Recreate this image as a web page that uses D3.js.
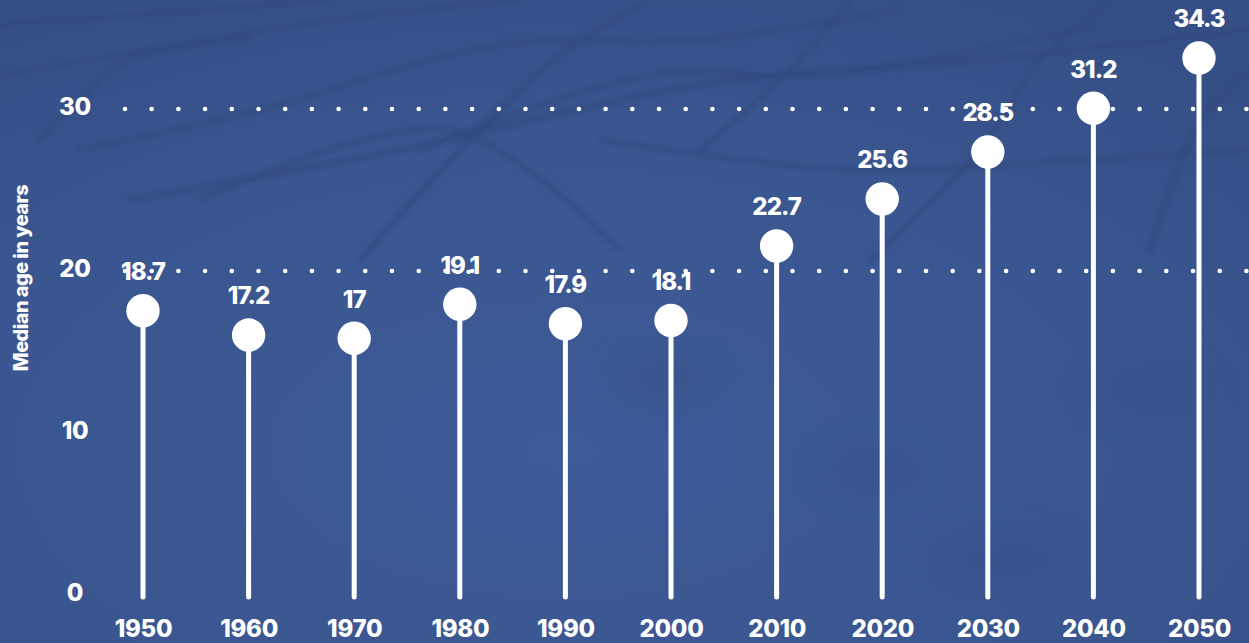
<!DOCTYPE html>
<html>
<head>
<meta charset="utf-8">
<script src="https://cdn.jsdelivr.net/npm/d3@7"></script>
<style>
  html, body { margin: 0; padding: 0; background: #3b5791; overflow: hidden; }
  svg { display: block; font-family: Inter, "Open Sans", sans-serif; }
</style>
</head>
<body>
<svg id="chart" width="1249" height="643"></svg>
<script>
// ---- data ----
const years = ["1950", "1960", "1970", "1980", "1990", "2000", "2010", "2020", "2030", "2040", "2050"];
const medianAge = [18.7, 17.2, 17, 19.1, 17.9, 18.1, 22.7, 25.6, 28.5, 31.2, 34.3];
const yTicks = [0, 10, 20, 30];
const gridTicks = [20, 30];
const yTitle = "Median age in years";

const W = 1249, H = 643;
const svg = d3.select("#chart");

// ---- background ----
const defs = svg.append("defs");
const rg = defs.append("radialGradient").attr("id", "bg").attr("cx", "45%").attr("cy", "70%").attr("r", "80%");
rg.append("stop").attr("offset", "0%").attr("stop-color", "#3d5b97");
rg.append("stop").attr("offset", "60%").attr("stop-color", "#3a5690");
rg.append("stop").attr("offset", "100%").attr("stop-color", "#354f86");
defs.append("filter").attr("id", "blur").append("feGaussianBlur").attr("stdDeviation", 2.5);
defs.append("filter").attr("id", "blur2").append("feGaussianBlur").attr("stdDeviation", 18);
svg.append("rect").attr("width", W).attr("height", H).attr("fill", "url(#bg)");

// decorative texture (background only)
const deco = svg.append("g").attr("filter", "url(#blur)").attr("stroke", "#314a7c").attr("fill", "none").attr("stroke-linecap", "round");
const decoLines = [
  [[0, 25], [180, 12], [330, 0]], [[0, 75], [120, 55], [330, 20], [520, 0]],
  [[80, 150], [260, 110], [500, 45], [700, 40], [900, 10]],
  [[130, 200], [400, 150], [700, 85], [980, 60], [1249, 30]],
  [[420, 150], [650, 75], [820, 75], [1100, 25]],
  [[250, 40], [130, 60], [40, 140]], [[650, 0], [560, 55], [460, 150], [360, 260]],
  [[850, 0], [800, 60], [700, 150]], [[1110, 0], [1040, 60], [980, 150], [870, 260]],
  [[1249, 70], [1200, 120], [1150, 250]], [[200, 200], [450, 130], [620, 250]],
  [[600, 140], [850, 170], [1080, 160], [1249, 150]]
];
deco.selectAll("path").data(decoLines).join("path")
  .attr("d", d3.line().curve(d3.curveCatmullRom))
  .attr("stroke-width", (d, i) => i % 3 === 0 ? 7 : 6)
  .attr("opacity", 0.6);
const blobs = svg.append("g").attr("filter", "url(#blur2)").attr("fill", "#33497c").attr("opacity", 0.3);
[[660, 380, 50, 20], [1150, 390, 60, 20], [1000, 560, 70, 20], [870, 470, 50, 18]].forEach(b => {
  blobs.append("ellipse").attr("cx", b[0]).attr("cy", b[1]).attr("rx", b[2]).attr("ry", b[3]);
});

// ---- scales ----
const x = d3.scalePoint().domain(years).range([143, 1199]);
const y = d3.scaleLinear().domain([0, 35]).range([597, 597 - 35 * 16.2]);
const r = 16.7;

// ---- grid (dotted) ----
svg.append("g").selectAll("line").data(gridTicks).join("line")
  .attr("x1", 125).attr("x2", W + 10)
  .attr("y1", d => y(d) - 2).attr("y2", d => y(d) - 2)
  .attr("stroke", "#fff").attr("stroke-width", 4.6)
  .attr("stroke-linecap", "round").attr("stroke-dasharray", "0 26.7");

// ---- y axis labels ----
const yAxis = d3.axisLeft(y).tickValues(yTicks).tickSize(0).tickPadding(0);
const ya = svg.append("g").attr("transform", "translate(75,0)").call(yAxis);
ya.select(".domain").remove();
ya.selectAll("text").attr("fill", "#fff").attr("font-size", 24).attr("font-weight", 800)
  .attr("text-anchor", "middle").attr("dy", "0.32em").attr("y", -4).attr("font-family", "Inter, sans-serif")
  .attr("letter-spacing", -0.3);

// y title
svg.append("text").attr("transform", "translate(28,278) rotate(-90)")
  .attr("text-anchor", "middle").attr("fill", "#fff").attr("font-size", 20).attr("font-weight", 800)
  .attr("letter-spacing", -0.6).text(yTitle);

// ---- x axis labels ----
const xAxis = d3.axisBottom(x).tickSize(0).tickPadding(0);
const xa = svg.append("g").attr("transform", "translate(0,637)").call(xAxis);
xa.select(".domain").remove();
xa.selectAll("text").attr("fill", "#fff").attr("font-size", 24).attr("font-weight", 800)
  .attr("dy", 0).attr("y", 0).attr("font-family", "Inter, sans-serif").attr("letter-spacing", -0.3);

// ---- lollipops ----
const data = years.map((yr, i) => ({ year: yr, v: medianAge[i] }));
const g = svg.append("g");
g.selectAll("line.stem").data(data).join("line").attr("class", "stem")
  .attr("x1", d => x(d.year)).attr("x2", d => x(d.year))
  .attr("y1", y(0)).attr("y2", d => y(d.v) + r)
  .attr("stroke", "#fff").attr("stroke-width", 5).attr("stroke-linecap", "round");
g.selectAll("circle").data(data).join("circle")
  .attr("cx", d => x(d.year)).attr("cy", d => y(d.v) + r).attr("r", r).attr("fill", "#fff");
g.selectAll("text.val").data(data).join("text").attr("class", "val")
  .attr("x", d => x(d.year)).attr("y", d => y(d.v) - 14)
  .attr("text-anchor", "middle").attr("fill", "#fff").attr("font-size", 24).attr("font-weight", 800)
  .attr("letter-spacing", -1).text(d => d.v);
</script>
</body>
</html>
